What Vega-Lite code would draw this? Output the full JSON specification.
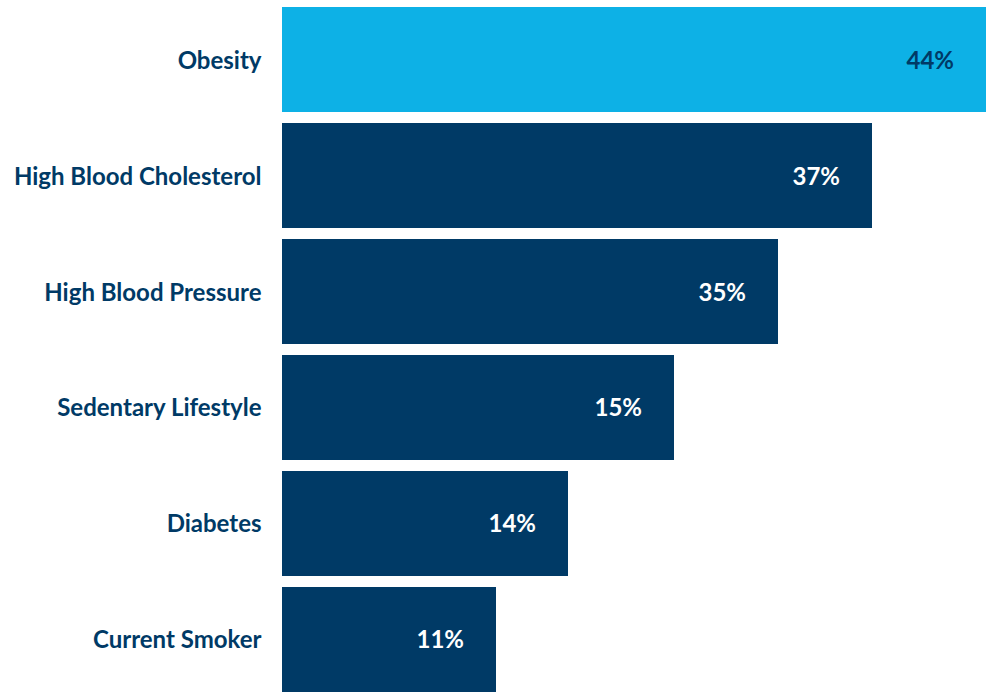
{
  "$schema": "https://vega.github.io/schema/vega-lite/v6.json",
  "autosize": {"type": "none"},
  "padding": {"left": 282, "top": 7, "right": 0, "bottom": 0},
  "width": 708,
  "height": 685,
  "background": "white",
  "config": {"view": {"stroke": null}, "font": "Lato"},
  "data": {"values": [
    {"risk": "Obesity", "value": 44, "label": "44%"},
    {"risk": "High Blood Cholesterol", "value": 37, "label": "37%"},
    {"risk": "High Blood Pressure", "value": 35, "label": "35%"},
    {"risk": "Sedentary Lifestyle", "value": 15, "label": "15%"},
    {"risk": "Diabetes", "value": 14, "label": "14%"},
    {"risk": "Current Smoker", "value": 11, "label": "11%"}
  ]},
  "encoding": {
    "y": {"field": "risk", "type": "nominal", "sort": null,
      "scale": {"paddingInner": 0.0948, "paddingOuter": 0},
      "axis": {"title": null, "ticks": false, "domain": false, "labelFont": "Lato", "labelFontWeight": "bold", "labelFontSize": 24, "labelColor": "#003A66", "labelPadding": 21, "labelLimit": 0, "labelBaseline": "middle", "labelOffset": 2}},
    "x": {"field": "value", "type": "quantitative",
      "scale": {"domain": [0, 11, 14, 15, 35, 37, 44], "range": [0, 214, 286, 392, 496, 590, 704]},
      "axis": null}
  },
  "layer": [
    {"mark": {"type": "bar"},
      "encoding": {"color": {"condition": {"test": "datum.risk === 'Obesity'", "value": "#0DB1E6"}, "value": "#003A66"}}},
    {"mark": {"type": "text", "align": "right", "baseline": "middle", "dx": -32, "dy": 2, "font": "Lato", "fontWeight": "bold", "fontSize": 24},
      "encoding": {"text": {"field": "label", "type": "nominal"},
        "color": {"condition": {"test": "datum.risk === 'Obesity'", "value": "#003A66"}, "value": "#FFFFFF"}}}
  ]
}
